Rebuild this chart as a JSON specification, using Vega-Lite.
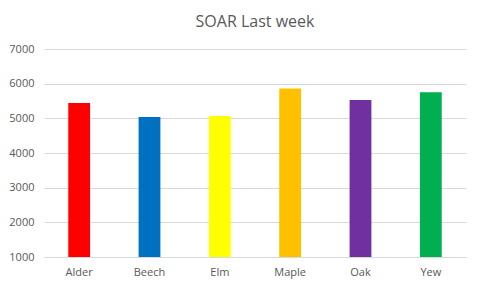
{
  "$schema": "https://vega.github.io/schema/vega-lite/v6.json",
  "autosize": "none",
  "width": 422,
  "height": 208,
  "padding": {"left": 44, "top": 49, "right": 22, "bottom": 41},
  "background": "white",
  "title": {
    "text": "SOAR Last week",
    "font": "Open Sans",
    "fontSize": 16,
    "fontWeight": "normal",
    "color": "#595959",
    "anchor": "middle",
    "offset": 13
  },
  "data": {
    "values": [
      {"tree": "Alder", "value": 5440},
      {"tree": "Beech", "value": 5040},
      {"tree": "Elm", "value": 5066},
      {"tree": "Maple", "value": 5864},
      {"tree": "Oak", "value": 5528},
      {"tree": "Yew", "value": 5749}
    ]
  },
  "mark": {"type": "bar", "clip": false},
  "encoding": {
    "x": {
      "field": "tree",
      "type": "nominal",
      "sort": null,
      "scale": {"paddingInner": 0.69, "paddingOuter": 0.345},
      "axis": {
        "title": null,
        "labelAngle": 0,
        "ticks": false,
        "domain": true,
        "domainColor": "#d9d9d9",
        "labelColor": "#595959",
        "labelFont": "Open Sans",
        "labelFontSize": 11,
        "labelPadding": 9
      }
    },
    "y": {
      "field": "value",
      "type": "quantitative",
      "scale": {"domain": [1000, 7000], "zero": false, "nice": false},
      "axis": {
        "title": null,
        "values": [1000, 2000, 3000, 4000, 5000, 6000, 7000],
        "format": "d",
        "ticks": false,
        "domain": false,
        "grid": true,
        "gridColor": "#d9d9d9",
        "labelColor": "#595959",
        "labelFont": "Open Sans",
        "labelFontSize": 11,
        "labelPadding": 10
      }
    },
    "y2": {"datum": 1000},
    "color": {
      "field": "tree",
      "type": "nominal",
      "sort": null,
      "scale": {
        "domain": ["Alder", "Beech", "Elm", "Maple", "Oak", "Yew"],
        "range": ["#FF0000", "#0070C0", "#FFFF00", "#FFC000", "#7030A0", "#00B050"]
      },
      "legend": null
    }
  },
  "config": {"view": {"stroke": null}}
}
